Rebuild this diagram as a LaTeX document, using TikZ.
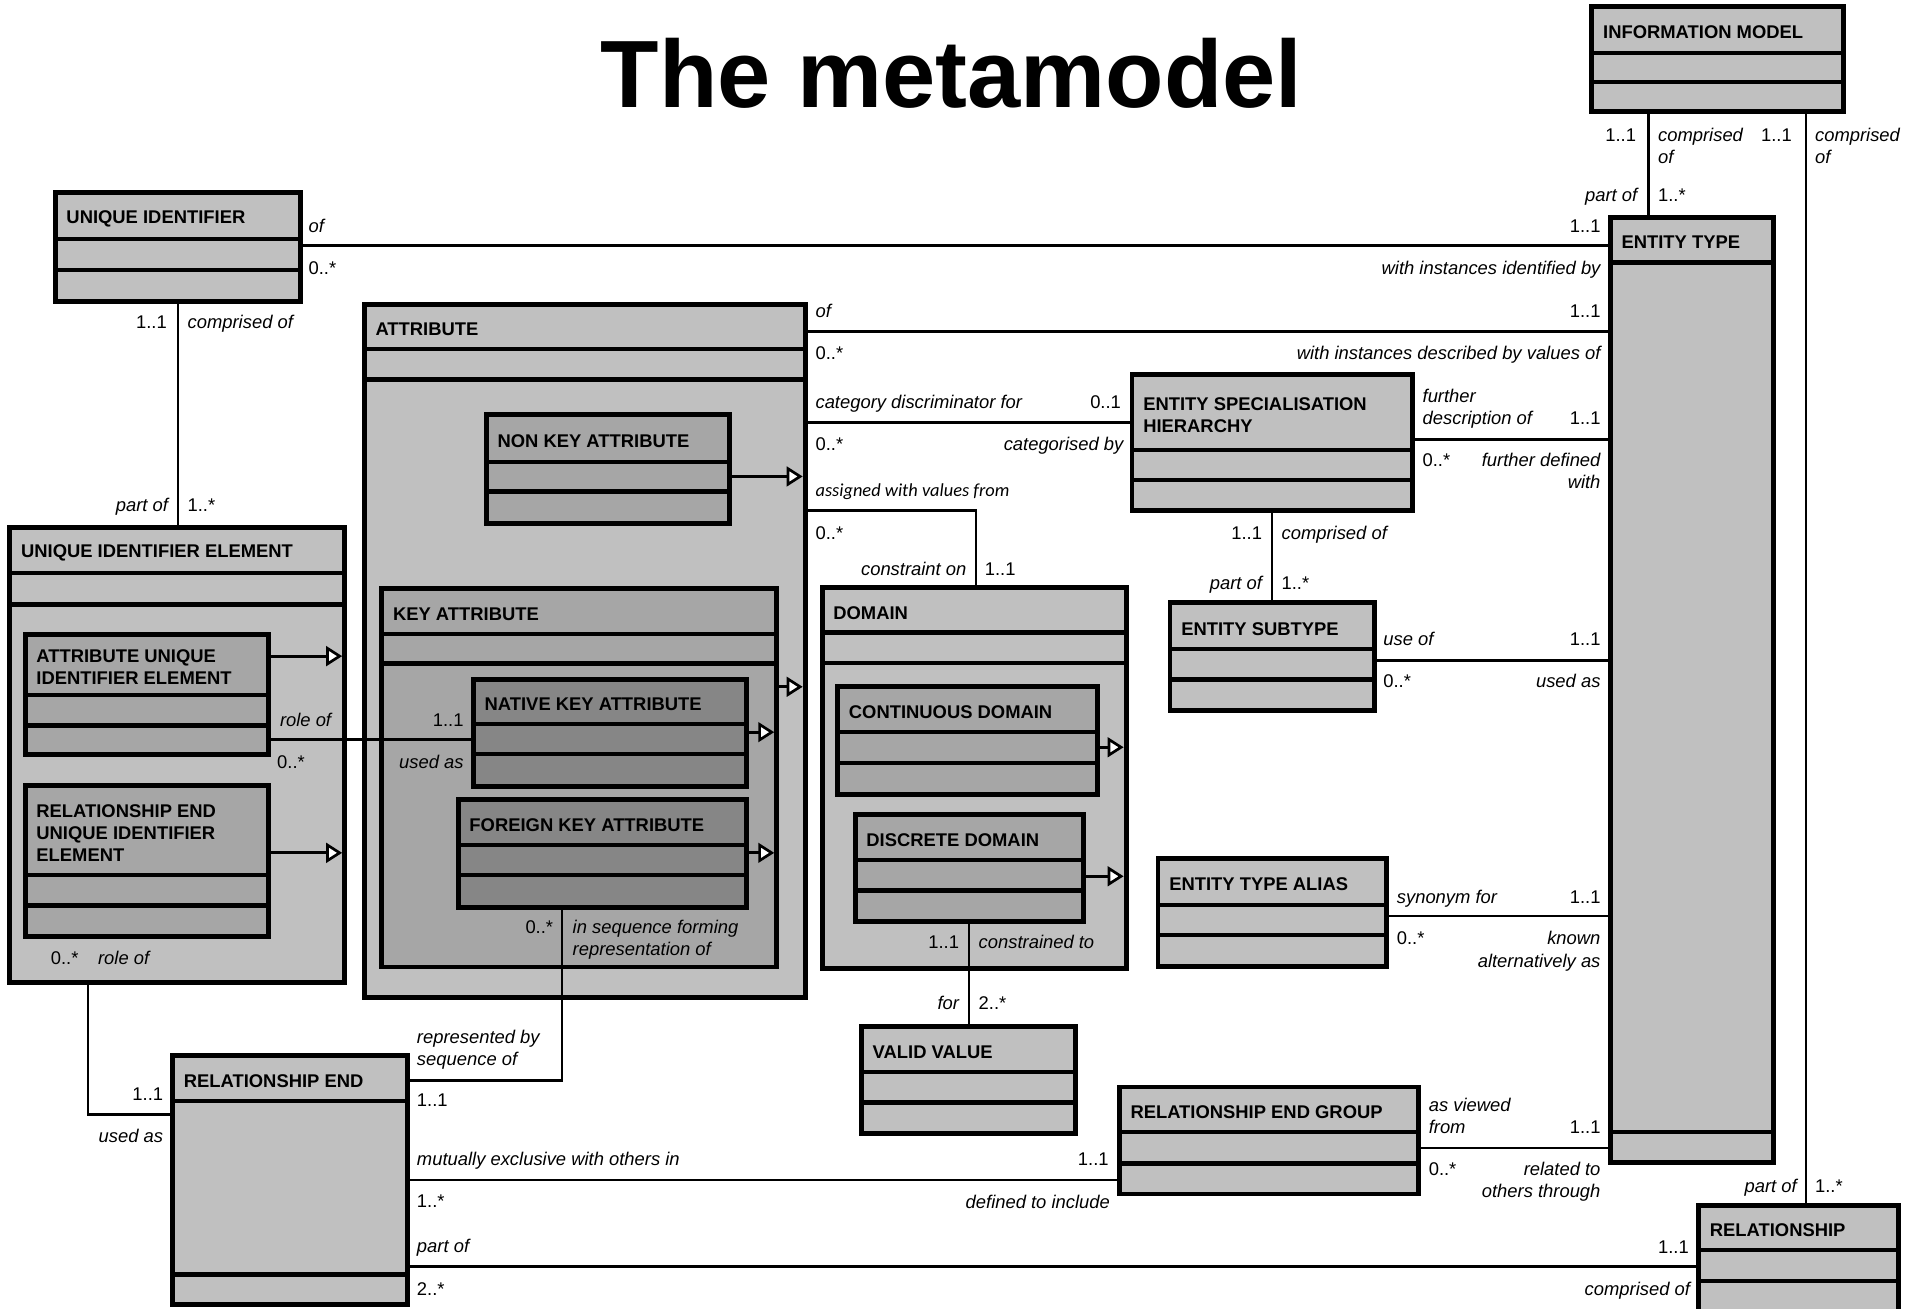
\documentclass[tikz,border=0pt]{standalone}
\usepackage{fontspec}
\setmainfont{Liberation Sans}
\newfontfamily\calfont{Carlito}
\usetikzlibrary{arrows.meta}
\definecolor{lightg}{HTML}{C0C0C0}
\definecolor{midg}{HTML}{A6A6A6}
\definecolor{darkg}{HTML}{868686}
\newcommand{\lblfont}{\fontsize{15}{18}\selectfont}
\tikzset{
  clsbox/.style={draw=black, line width=4pt, inner sep=0pt, outer sep=0pt, rectangle},
  sepl/.style={line width=3.6pt},
  hdr/.style={font=\fontsize{15}{18}\selectfont\bfseries, align=left, inner sep=0pt, anchor=west},
  conn/.style={line width=2pt},
  gen/.style={line width=2.6pt, -{Triangle[open, fill=white, length=13pt, width=16pt, line width=2.2pt]}, shorten >=2pt},
  lbl/.style={inner sep=0pt, outer sep=0pt}
}
\newcommand{\cls}[9]{%
  \node[clsbox, fill=#8, minimum width={(#4-#2)*1pt}, minimum height={(#5-#3)*1pt}] (#1) at ({(#2+#4)/2},{(#3+#5)/2}) {};
  \draw[sepl] ({#2},{#6}) -- ({#4},{#6});
  \draw[sepl] ({#2},{#7}) -- ({#4},{#7});
  \node[hdr] (#1t) at ({#2+9},{(#3+#6)/2+2.2}) {#9};
}
\newcommand{\labIW}[4]{\node[lbl, font=\lblfont\itshape, anchor=base west] (#1) at (#2,#3) {#4};}
\newcommand{\labIE}[4]{\node[lbl, font=\lblfont\itshape, anchor=base east] (#1) at (#2,#3) {#4};}
\newcommand{\labNW}[4]{\node[lbl, font=\lblfont, anchor=base west] (#1) at (#2,#3) {#4};}
\newcommand{\labNE}[4]{\node[lbl, font=\lblfont, anchor=base east] (#1) at (#2,#3) {#4};}
\begin{document}
\begin{tikzpicture}[x=1pt,y=-1pt]
\path[use as bounding box] (0,0) rectangle (1568,1067);
\fill[white] (0,0) rectangle (1568,1067);
\clip (0,0) rectangle (1568,1067);

\node[lbl, font=\fontsize{78}{90}\selectfont\bfseries, anchor=base] (title) at (776,87.5) {The metamodel};

% classes
\cls{im}{1298}{5}{1503}{91}{43}{67}{lightg}{INFORMATION MODEL}
\cls{et}{1313}{177}{1446}{948}{214}{923}{lightg}{ENTITY TYPE}
\cls{uid}{45}{157}{245}{246}{195}{220}{lightg}{UNIQUE IDENTIFIER}
\cls{uie}{8}{430}{281}{801}{467}{493}{lightg}{UNIQUE IDENTIFIER ELEMENT}
\cls{auie}{20.5}{517}{219}{615}{566.5}{591.5}{midg}{ATTRIBUTE UNIQUE\\IDENTIFIER ELEMENT}
\cls{reuie}{20.5}{640.5}{219}{763.5}{713.3}{738.4}{midg}{RELATIONSHIP END\\UNIQUE IDENTIFIER\\ELEMENT}
\cls{attr}{297}{248}{656.5}{813}{284.6}{309.5}{lightg}{ATTRIBUTE}
\cls{nka}{396.5}{338}{595}{426.5}{376.6}{400.7}{midg}{NON KEY ATTRIBUTE}
\cls{ka}{311.3}{479.6}{633.3}{788.5}{517}{541.1}{midg}{KEY ATTRIBUTE}
\cls{natka}{386}{554}{608.5}{641}{590.4}{614.8}{darkg}{NATIVE KEY ATTRIBUTE}
\cls{fka}{373.6}{651.7}{608.5}{740.2}{689}{713.3}{darkg}{FOREIGN KEY ATTRIBUTE}
\cls{esh}{923}{305}{1152}{416.4}{367}{391.4}{lightg}{ENTITY SPECIALISATION\\HIERARCHY}
\cls{es}{954}{491.5}{1121}{579.3}{529.4}{554}{lightg}{ENTITY SUBTYPE}
\cls{dom}{670.3}{479.2}{918.2}{789.7}{515.8}{540.4}{lightg}{DOMAIN}
\cls{cd}{683}{560}{894.6}{647.5}{597}{622.2}{midg}{CONTINUOUS DOMAIN}
\cls{dd}{697.3}{664.3}{883.5}{751.5}{701.3}{726.2}{midg}{DISCRETE DOMAIN}
\cls{vv}{702.4}{837.3}{876.6}{924.1}{874.3}{898.8}{lightg}{VALID VALUE}
\cls{eta}{944.2}{700}{1130.4}{787.8}{738}{762.4}{lightg}{ENTITY TYPE ALIAS}
\cls{re}{140.7}{860.3}{332.6}{1064}{897.8}{1039.3}{lightg}{RELATIONSHIP END}
\cls{reg}{912.6}{886.3}{1156.6}{973.6}{923}{948.6}{lightg}{RELATIONSHIP END GROUP}
\cls{rel}{1385}{982.6}{1548}{1085}{1019}{1044.5}{lightg}{RELATIONSHIP}

% associations
\draw[conn] (im.south -| 1344,0) -- (et.north -| 1344,0);
\draw[conn] (im.south -| 1472.5,0) -- (rel.north -| 1472.5,0);
\draw[conn] (uid.east |- 0,200) -- (et.west |- 0,200);
\draw[conn] (uid.south -| 145,0) -- (uie.north -| 145,0);
\draw[conn] (attr.east |- 0,270.4) -- (et.west |- 0,270.4);
\draw[conn] (attr.east |- 0,344.6) -- (esh.west |- 0,344.6);
\draw[conn] (attr.east |- 0,416.4) -| (dom.north -| 796,0);
\draw[conn] (esh.east |- 0,358.2) -- (et.west |- 0,358.2);
\draw[conn] (esh.south -| 1037.3,0) -- (es.north -| 1037.3,0);
\draw[conn] (es.east |- 0,538.4) -- (et.west |- 0,538.4);
\draw[conn] (eta.east |- 0,747) -- (et.west |- 0,747);
\draw[conn] (reg.east |- 0,936) -- (et.west |- 0,936);
\draw[conn] (dd.south -| 790,0) -- (vv.north -| 790,0);
\draw[conn] (auie.east |- 0,603) -- (natka.west |- 0,603);
\draw[conn] (fka.south -| 458.4,0) |- (re.east |- 0,881);
\draw[conn] (uie.south -| 71.7,0) |- (re.west |- 0,908.6);
\draw[conn] (re.east |- 0,962.3) -- (reg.west |- 0,962.3);
\draw[conn] (re.east |- 0,1032.5) -- (rel.west |- 0,1032.5);

% generalisations
\draw[gen] (auie.east |- 0,535) -- (uie.east |- 0,535);
\draw[gen] (reuie.east |- 0,695.4) -- (uie.east |- 0,695.4);
\draw[gen] (nka.east |- 0,388.5) -- (attr.east |- 0,388.5);
\draw[gen] (ka.east |- 0,560) -- (attr.east |- 0,560);
\draw[gen] (natka.east |- 0,597) -- (ka.east |- 0,597);
\draw[gen] (fka.east |- 0,695.4) -- (ka.east |- 0,695.4);
\draw[gen] (cd.east |- 0,609.3) -- (dom.east |- 0,609.3);
\draw[gen] (dd.east |- 0,714.5) -- (dom.east |- 0,714.5);

% labels
\labNE{l1}{1334}{115.5}{1..1}
\labIW{l2}{1352}{115.5}{comprised}
\labIW{l3}{1352}{133.5}{of}
\labIE{l4}{1335}{164.5}{part of}
\labNW{l5}{1352}{164.5}{1..*}
\labNE{l6}{1461}{115.5}{1..1}
\labIW{l7}{1480}{115.5}{comprised}
\labIW{l8}{1480}{133.5}{of}
\labIE{l9}{1465}{972}{part of}
\labNW{l10}{1480}{972}{1..*}
\labIW{l11}{251.6}{189.4}{of}
\labNW{l12}{251.6}{223.8}{0..*}
\labNE{l13}{1305}{189.4}{1..1}
\labIE{l14}{1305}{223.8}{with instances identified by}
\labNE{l15}{136}{268}{1..1}
\labIW{l16}{153}{268}{comprised of}
\labIE{l17}{137}{417}{part of}
\labNW{l18}{153}{417}{1..*}
\labIW{l19}{665}{259}{of}
\labNW{l20}{665}{293.5}{0..*}
\labNE{l21}{1305}{259}{1..1}
\labIE{l22}{1305}{293.5}{with instances described by values of}
\labIW{l23}{665}{333}{category discriminator for}
\labNE{l24}{914}{333}{0..1}
\labNW{l25}{665}{367}{0..*}
\labIE{l26}{916}{367}{categorised by}
\node[lbl, font=\fontsize{15}{18}\selectfont\calfont\itshape, anchor=base west] (l27) at (665,405) {assigned with values from};
\labNW{l28}{665}{440}{0..*}
\labIE{l29}{788}{469.5}{constraint on}
\labNW{l30}{803}{469.5}{1..1}
\labIW{l31}{1160}{328}{further}
\labIW{l32}{1160}{346.5}{description of}
\labNE{l33}{1305}{346.5}{1..1}
\labNW{l34}{1160}{380.5}{0..*}
\labIE{l35}{1305}{380.5}{further defined}
\labIE{l36}{1305}{398.5}{with}
\labNE{l37}{1029}{439.5}{1..1}
\labIW{l38}{1045}{439.5}{comprised of}
\labIE{l39}{1029}{480.5}{part of}
\labNW{l40}{1045}{480.5}{1..*}
\labIW{l41}{1128}{526.5}{use of}
\labNE{l42}{1305}{526.5}{1..1}
\labNW{l43}{1128}{560.5}{0..*}
\labIE{l44}{1305}{560.5}{used as}
\labIE{l45}{270}{592.5}{role of}
\labNW{l46}{226}{626.5}{0..*}
\labNE{l47}{378}{592.5}{1..1}
\labIE{l48}{378}{626.5}{used as}
\labIW{l49}{1139}{736.5}{synonym for}
\labNE{l50}{1305}{736.5}{1..1}
\labNW{l51}{1139}{770.5}{0..*}
\labIE{l52}{1305}{770.5}{known}
\labIE{l53}{1305}{789}{alternatively as}
\labNE{l54}{782}{773.5}{1..1}
\labIW{l55}{798}{773.5}{constrained to}
\labIE{l56}{782}{823.5}{for}
\labNW{l57}{798}{823.5}{2..*}
\labNE{l58}{451}{761.5}{0..*}
\labIW{l59}{467}{761.5}{in sequence forming}
\labIW{l60}{467}{779.5}{representation of}
\labIW{l61}{340}{850.5}{represented by}
\labIW{l62}{340}{868.5}{sequence of}
\labNW{l63}{340}{902.5}{1..1}
\labNE{l64}{64}{786.5}{0..*}
\labIW{l65}{80}{786.5}{role of}
\labNE{l66}{133}{897.5}{1..1}
\labIE{l67}{133}{931.5}{used as}
\labIW{l68}{1165}{906.5}{as viewed}
\labIW{l69}{1165}{924.5}{from}
\labNE{l70}{1305}{924.5}{1..1}
\labNW{l71}{1165}{958.5}{0..*}
\labIE{l72}{1305}{958.5}{related to}
\labIE{l73}{1305}{976.5}{others through}
\labIW{l74}{340}{950.5}{mutually exclusive with others in}
\labNE{l75}{904}{950.5}{1..1}
\labNW{l76}{340}{984.5}{1..*}
\labIE{l77}{905}{985.5}{defined to include}
\labIW{l78}{340}{1021.5}{part of}
\labNW{l79}{340}{1056.5}{2..*}
\labNE{l80}{1377}{1022}{1..1}
\labIE{l81}{1378}{1056.5}{comprised of}
\end{tikzpicture}
\end{document}
